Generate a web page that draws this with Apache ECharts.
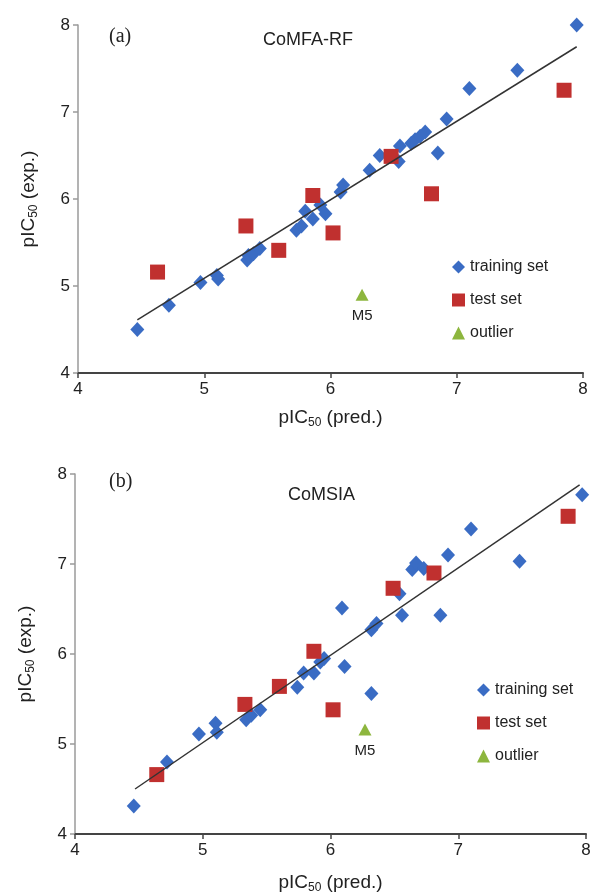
<!DOCTYPE html>
<html>
<head>
<meta charset="utf-8">
<script src="https://cdn.jsdelivr.net/npm/echarts@6/dist/echarts.min.js"></script>
<style>
html,body{margin:0;padding:0;background:#fff;}
#chart{width:594px;height:896px;}
</style>
</head>
<body>
<div id="chart"></div>
<script>
// ---- Data: (a) CoMFA-RF ----
var trainA_pred = [4.47, 4.72, 4.97, 5.10, 5.11, 5.34, 5.35, 5.39, 5.44, 5.73, 5.77, 5.80, 5.86, 5.92, 5.96, 6.08, 6.10, 6.31, 6.39, 6.54, 6.55, 6.64, 6.67, 6.71, 6.75, 6.85, 6.92, 7.10, 7.48, 7.95];
var trainA_exp  = [4.50, 4.78, 5.04, 5.12, 5.08, 5.30, 5.35, 5.37, 5.43, 5.64, 5.69, 5.86, 5.77, 5.93, 5.83, 6.08, 6.16, 6.33, 6.50, 6.43, 6.61, 6.64, 6.68, 6.72, 6.77, 6.53, 6.92, 7.27, 7.48, 8.00];
var testA_pred = [4.63, 5.33, 5.59, 5.86, 6.02, 6.48, 6.80, 7.85];
var testA_exp  = [5.16, 5.69, 5.41, 6.04, 5.61, 6.49, 6.06, 7.25];
var outlierA_pred = [6.25];
var outlierA_exp  = [4.90];
var fitA_pred = [4.47, 7.95];
var fitA_exp  = [4.61, 7.75];

// ---- Data: (b) CoMSIA ----
var trainB_pred = [4.46, 4.72, 4.97, 5.10, 5.11, 5.34, 5.38, 5.45, 5.74, 5.79, 5.87, 5.92, 5.95, 6.09, 6.11, 6.32, 6.32, 6.36, 6.54, 6.56, 6.64, 6.67, 6.73, 6.86, 6.92, 7.10, 7.48, 7.97];
var trainB_exp  = [4.31, 4.80, 5.11, 5.23, 5.13, 5.27, 5.32, 5.38, 5.63, 5.79, 5.79, 5.91, 5.95, 6.51, 5.86, 5.56, 6.27, 6.34, 6.67, 6.43, 6.94, 7.01, 6.95, 6.43, 7.10, 7.39, 7.03, 7.77];
var testB_pred = [4.64, 5.33, 5.60, 5.87, 6.02, 6.49, 6.81, 7.86];
var testB_exp  = [4.66, 5.44, 5.64, 6.03, 5.38, 6.73, 6.90, 7.53];
var outlierB_pred = [6.27];
var outlierB_exp  = [5.16];
var fitB_pred = [4.47, 7.95];
var fitB_exp  = [4.50, 7.88];

var outlierLabel = 'M5';
var seriesNames = ['training set', 'test set', 'outlier'];
var panelTags = ['(a)', '(b)'];
var panelTitles = ['CoMFA-RF', 'CoMSIA'];
var xName = 'pIC{s|50} (pred.)';
var yName = 'pIC{s|50} (exp.)';

function zip(a, b) { return a.map(function (v, i) { return [v, b[i]]; }); }

var BLUE = '#3a6cc4', RED = '#c0302f', GREEN = '#8db63e';
var FONT = 'Liberation Sans, Arial, sans-serif';

function makeX(gi, gap) {
  return {
    gridIndex: gi, type: 'value', min: 4, max: 8, interval: 1,
    name: xName, nameLocation: 'middle', nameGap: gap,
    nameTextStyle: { fontFamily: FONT, fontSize: 19, color: '#222',
      rich: { s: { fontSize: 12, fontFamily: FONT, color: '#222', padding: [10, 0, 0, 0] } } },
    axisLine: { show: true, onZero: false, lineStyle: { color: '#444', width: 2 } },
    axisTick: { show: true, inside: false, length: 5, lineStyle: { color: '#444', width: 1.5 } },
    axisLabel: { fontFamily: FONT, fontSize: 17, color: '#222', margin: 8 },
    splitLine: { show: false }
  };
}
function makeY(gi) {
  return {
    gridIndex: gi, type: 'value', min: 4, max: 8, interval: 1,
    name: yName, nameLocation: 'middle', nameGap: 38, nameRotate: 90,
    nameTextStyle: { fontFamily: FONT, fontSize: 19, color: '#222',
      rich: { s: { fontSize: 12, fontFamily: FONT, color: '#222', padding: [10, 0, 0, 0] } } },
    axisLine: { show: true, onZero: false, lineStyle: { color: '#9a9a9a', width: 1.5 } },
    axisTick: { show: true, inside: false, length: 5, lineStyle: { color: '#9a9a9a', width: 1.5 } },
    axisLabel: { fontFamily: FONT, fontSize: 17, color: '#222', margin: 8 },
    splitLine: { show: false }
  };
}

function panelSeries(gi, tp, te, sp, se, op, oe, fp, fe) {
  return [
    { name: seriesNames[0], type: 'scatter', xAxisIndex: gi, yAxisIndex: gi,
      symbol: 'diamond', symbolSize: [14, 15], itemStyle: { color: BLUE, opacity: 1 },
      data: zip(tp, te), z: 3 },
    { name: seriesNames[1], type: 'scatter', xAxisIndex: gi, yAxisIndex: gi,
      symbol: 'rect', symbolSize: 15, itemStyle: { color: RED, opacity: 1 },
      data: zip(sp, se), z: 4 },
    { name: seriesNames[2], type: 'scatter', xAxisIndex: gi, yAxisIndex: gi,
      symbol: 'triangle', symbolSize: [13, 12], itemStyle: { color: GREEN, opacity: 1 },
      data: zip(op, oe), z: 4,
      label: { show: true, position: 'bottom', distance: 8, formatter: outlierLabel,
        fontFamily: FONT, fontSize: 15, color: '#222' } },
    { name: 'fit', type: 'line', xAxisIndex: gi, yAxisIndex: gi,
      symbol: 'none', lineStyle: { color: '#333', width: 1.5 },
      data: zip(fp, fe), z: 5, silent: true }
  ];
}

var chart = echarts.init(document.getElementById('chart'), null, { renderer: 'canvas' });
var legendText = { fontFamily: FONT, fontSize: 16, color: '#222' };
chart.setOption({
  backgroundColor: '#fff',
  animation: false,
  title: [
    { text: panelTags[0], left: 104, top: 22, textStyle: { fontFamily: 'Liberation Serif, Times New Roman, serif', fontSize: 20, fontWeight: 'normal', color: '#222' } },
    { text: panelTitles[0], left: 258, top: 26, textStyle: { fontFamily: FONT, fontSize: 18, fontWeight: 'normal', color: '#222' } },
    { text: panelTags[1], left: 104, top: 467, textStyle: { fontFamily: 'Liberation Serif, Times New Roman, serif', fontSize: 20, fontWeight: 'normal', color: '#222' } },
    { text: panelTitles[1], left: 283, top: 481, textStyle: { fontFamily: FONT, fontSize: 18, fontWeight: 'normal', color: '#222' } }
  ],
  legend: [
    { data: [{ name: seriesNames[0], icon: 'diamond' }, { name: seriesNames[1], icon: 'rect' }, { name: seriesNames[2], icon: 'triangle' }],
      orient: 'vertical', left: 447, top: 254, itemWidth: 13, itemHeight: 13, itemGap: 17,
      textStyle: legendText, selectedMode: false },
    { data: [{ name: seriesNames[0], icon: 'diamond' }, { name: seriesNames[1], icon: 'rect' }, { name: seriesNames[2], icon: 'triangle' }],
      orient: 'vertical', left: 472, top: 677, itemWidth: 13, itemHeight: 13, itemGap: 17,
      textStyle: legendText, selectedMode: false }
  ],
  grid: [
    { left: 78, right: 11, top: 25, height: 348 },
    { left: 75, right: 8, top: 474, height: 360 }
  ],
  xAxis: [makeX(0, 34), makeX(1, 38)],
  yAxis: [makeY(0), makeY(1)],
  series: [].concat(
    panelSeries(0, trainA_pred, trainA_exp, testA_pred, testA_exp, outlierA_pred, outlierA_exp, fitA_pred, fitA_exp),
    panelSeries(1, trainB_pred, trainB_exp, testB_pred, testB_exp, outlierB_pred, outlierB_exp, fitB_pred, fitB_exp)
  )
});
</script>
</body>
</html>
